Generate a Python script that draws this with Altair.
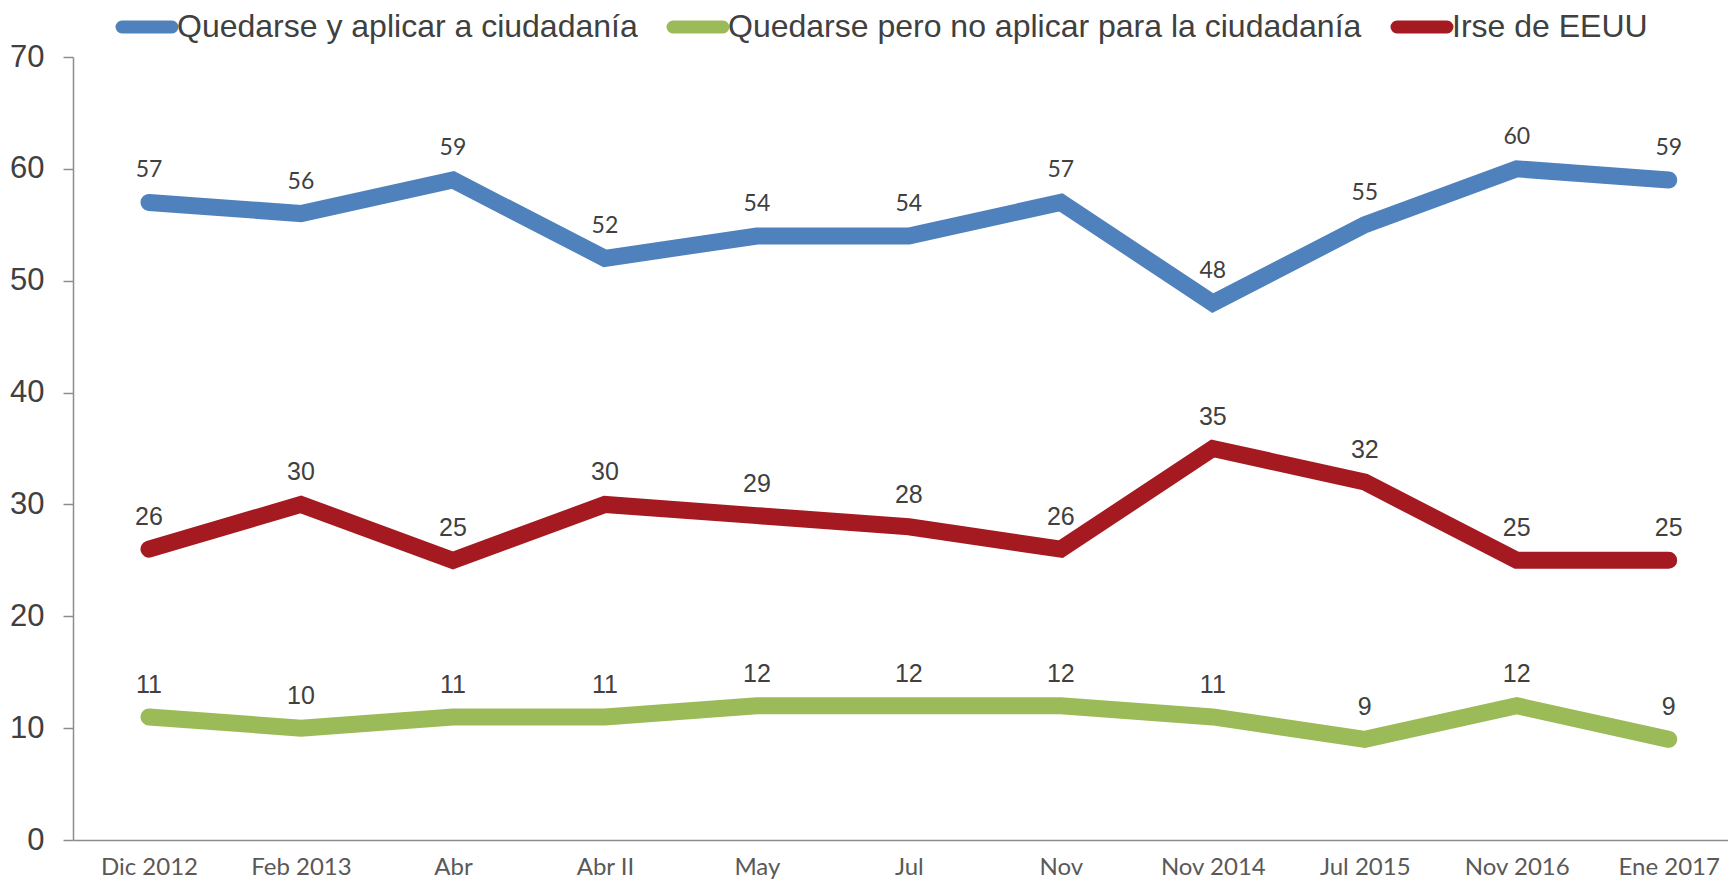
import altair as alt
import pandas as pd

categories = ["Dic 2012", "Feb 2013", "Abr", "Abr II", "May", "Jul", "Nov",
              "Nov 2014", "Jul 2015", "Nov 2016", "Ene 2017"]
series_names = ["Quedarse y aplicar a ciudadanía",
                "Quedarse pero no aplicar para la ciudadanía",
                "Irse de EEUU"]
aplicar = [57, 56, 59, 52, 54, 54, 57, 48, 55, 60, 59]
no_aplicar = [11, 10, 11, 11, 12, 12, 12, 11, 9, 12, 9]
irse = [26, 30, 25, 30, 29, 28, 26, 35, 32, 25, 25]
colors = ["#4F81BD", "#9BBB59", "#A51A21"]

rows = []
for name, vals in zip(series_names, [aplicar, no_aplicar, irse]):
    for i, (c, v) in enumerate(zip(categories, vals)):
        rows.append({"serie": name, "idx": i, "mes": c, "valor": v})
df = pd.DataFrame(rows)

label_expr = "[" + ",".join("'" + c + "'" for c in categories) + "][datum.value]"

# pill-shaped legend symbol (unit box -1..1), nudged right towards its label
pill = ("M-0.635,-0.0952 L0.9524,-0.0952 A0.0952,0.0952 0 0 1 0.9524,0.0952 "
        "L-0.635,0.0952 A0.0952,0.0952 0 0 1 -0.635,-0.0952 Z")

x = alt.X("idx:Q",
          scale=alt.Scale(domain=[-0.5, 10.39], nice=False, zero=False),
          axis=alt.Axis(values=list(range(len(categories))), labelExpr=label_expr,
                        title=None, ticks=False, grid=False,
                        labelFont="Lato", labelFontSize=24, labelColor="#595959",
                        labelPadding=15, labelFlush=False, labelOverlap=False,
                        domainColor="#8C8C8C", domainWidth=1.5))
y = alt.Y("valor:Q",
          scale=alt.Scale(domain=[0, 70], nice=False),
          axis=alt.Axis(values=list(range(0, 71, 10)), title=None, grid=False,
                        tickSize=10, tickColor="#8C8C8C", tickWidth=1.5,
                        domainColor="#8C8C8C", domainWidth=1.5,
                        labelFont="Liberation Sans", labelFontSize=31,
                        labelColor="#404040", labelPadding=19))

color = alt.Color("serie:N",
                  scale=alt.Scale(domain=series_names, range=colors),
                  legend=alt.Legend(title=None, orient="none", direction="horizontal",
                                    legendX=34, legendY=-65,
                                    symbolType=pill, symbolSize=3969,
                                    symbolStrokeWidth=7,
                                    labelFont="Liberation Sans", labelFontSize=32,
                                    labelColor="#404040", labelOffset=0,
                                    labelLimit=0, columnPadding=17))

lines = alt.Chart(df).mark_line(strokeWidth=17, strokeCap="round", strokeJoin="miter").encode(
    x=x, y=y, color=color, detail="serie:N")

base_text = alt.Chart(df).encode(x="idx:Q", y="valor:Q", text="valor:Q")
text_blue = base_text.transform_filter(alt.datum.serie == series_names[0]).mark_text(
    font="Lato", fontSize=23, color="#404040", baseline="alphabetic", dy=-25)
text_other = base_text.transform_filter(alt.datum.serie != series_names[0]).mark_text(
    font="Liberation Sans", fontSize=25, color="#404040", baseline="alphabetic", dy=-24)

chart = alt.layer(lines, text_blue, text_other).properties(
    width=1655, height=783,
    autosize=alt.AutoSizeParams(type="none"),
    padding={"left": 65, "top": 49, "right": 0, "bottom": 41},
).configure_view(stroke=None)

chart.save("out.html", embed_options={"renderer": "svg", "actions": False})
